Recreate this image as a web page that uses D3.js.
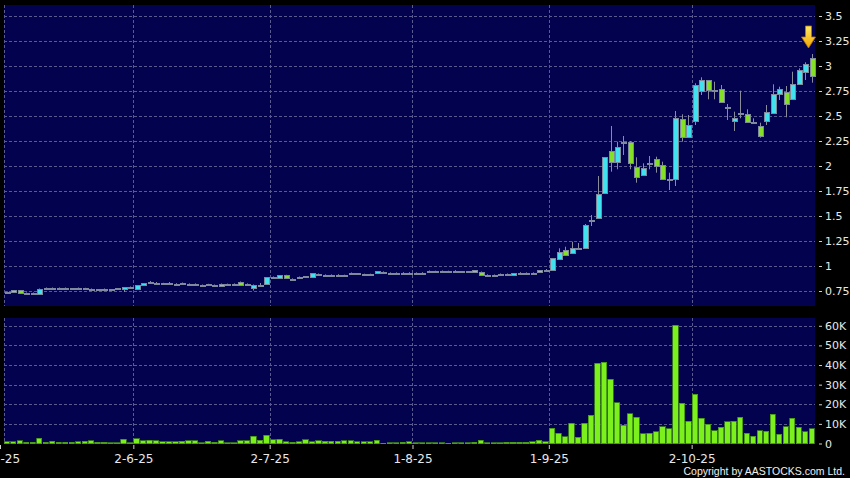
<!DOCTYPE html>
<html>
<head>
<meta charset="utf-8">
<script src="https://cdn.jsdelivr.net/npm/d3@7/dist/d3.min.js"></script>
<style>
body { margin: 0; background: #000; }
svg { display: block; }
</style>
</head>
<body>
<div id="chart"></div>
<script>
// trading days, 2 May - 30 Oct 2025
var days = [
    "2-5-25", "6-5-25", "7-5-25", "8-5-25", "9-5-25", "12-5-25", "13-5-25", "14-5-25", "15-5-25", "16-5-25",
    "19-5-25", "20-5-25", "21-5-25", "22-5-25", "23-5-25", "26-5-25", "27-5-25", "28-5-25", "29-5-25", "30-5-25",
    "2-6-25", "3-6-25", "4-6-25", "5-6-25", "6-6-25", "9-6-25", "10-6-25", "11-6-25", "12-6-25", "13-6-25",
    "16-6-25", "17-6-25", "18-6-25", "19-6-25", "20-6-25", "23-6-25", "24-6-25", "25-6-25", "26-6-25", "27-6-25", "30-6-25",
    "2-7-25", "3-7-25", "4-7-25", "7-7-25", "8-7-25", "9-7-25", "10-7-25", "11-7-25", "14-7-25", "15-7-25",
    "16-7-25", "17-7-25", "18-7-25", "21-7-25", "22-7-25", "23-7-25", "24-7-25", "25-7-25", "28-7-25", "29-7-25", "30-7-25", "31-7-25",
    "1-8-25", "4-8-25", "5-8-25", "6-8-25", "7-8-25", "8-8-25", "11-8-25", "12-8-25", "13-8-25", "14-8-25",
    "15-8-25", "18-8-25", "19-8-25", "20-8-25", "21-8-25", "22-8-25", "25-8-25", "26-8-25", "27-8-25", "28-8-25", "29-8-25",
    "1-9-25", "2-9-25", "3-9-25", "4-9-25", "5-9-25", "8-9-25", "9-9-25", "10-9-25", "11-9-25", "12-9-25",
    "15-9-25", "16-9-25", "17-9-25", "18-9-25", "19-9-25", "22-9-25", "23-9-25", "24-9-25", "25-9-25", "26-9-25", "29-9-25", "30-9-25",
    "2-10-25", "3-10-25", "6-10-25", "8-10-25", "9-10-25", "10-10-25", "13-10-25", "14-10-25", "15-10-25", "16-10-25",
    "17-10-25", "20-10-25", "21-10-25", "22-10-25", "23-10-25", "24-10-25", "27-10-25", "28-10-25", "30-10-25"
];

var opens = [
    0.74, 0.738, 0.757, 0.73, 0.73, 0.725, 0.777, 0.777, 0.777, 0.78,
    0.775, 0.777, 0.775, 0.77, 0.767, 0.77, 0.767, 0.775, 0.77, 0.79,
    0.767, 0.807, 0.84, 0.835, 0.827, 0.835, 0.823, 0.83, 0.823, 0.823,
    0.81, 0.817, 0.81, 0.823, 0.82, 0.823, 0.84, 0.823, 0.79, 0.81, 0.817,
    0.887, 0.875, 0.91, 0.873, 0.89, 0.897, 0.887, 0.923, 0.913, 0.913,
    0.913, 0.91, 0.927, 0.927, 0.92, 0.92, 0.927, 0.943, 0.933, 0.933, 0.933, 0.933,
    0.933, 0.933, 0.947, 0.95, 0.95, 0.95, 0.953, 0.947, 0.947, 0.957,
    0.943, 0.913, 0.91, 0.91, 0.923, 0.91, 0.933, 0.933, 0.933, 0.94, 0.965,
    0.96, 1.07, 1.16, 1.127, 1.183, 1.183, 1.46, 1.477, 1.727, 2.15,
    2.043, 2.237, 2.243, 1.993, 1.903, 2.027, 2.067, 2.007, 1.87, 1.867, 2.467, 2.287,
    2.45, 2.75, 2.857, 2.76, 2.767, 2.593, 2.443, 2.527, 2.52, 2.437,
    2.403, 2.443, 2.527, 2.717, 2.737, 2.667, 2.817, 2.937, 3.077
];
var highs = [
    0.745, 0.76, 0.76, 0.735, 0.735, 0.775, 0.785, 0.785, 0.785, 0.785,
    0.78, 0.785, 0.782, 0.775, 0.77, 0.775, 0.77, 0.78, 0.79, 0.795,
    0.81, 0.83, 0.85, 0.84, 0.832, 0.84, 0.828, 0.835, 0.826, 0.826,
    0.815, 0.822, 0.815, 0.825, 0.824, 0.826, 0.845, 0.826, 0.815, 0.83, 0.887,
    0.895, 0.91, 0.912, 0.876, 0.895, 0.9, 0.93, 0.925, 0.916, 0.916,
    0.918, 0.913, 0.935, 0.93, 0.923, 0.923, 0.95, 0.946, 0.936, 0.936, 0.938, 0.938,
    0.936, 0.938, 0.955, 0.953, 0.955, 0.953, 0.958, 0.95, 0.95, 0.96,
    0.945, 0.917, 0.915, 0.925, 0.925, 0.93, 0.938, 0.936, 0.936, 0.96, 0.97,
    1.08, 1.177, 1.193, 1.243, 1.23, 1.42, 1.51, 1.90, 2.09, 2.40,
    2.243, 2.30, 2.25, 2.087, 2.027, 2.10, 2.093, 2.043, 1.933, 2.55, 2.517, 2.51,
    2.827, 2.887, 2.86, 2.843, 2.81, 2.62, 2.543, 2.753, 2.567, 2.477,
    2.433, 2.61, 2.817, 2.793, 2.80, 2.943, 2.977, 3.037, 3.12
];
var lows = [
    0.735, 0.735, 0.723, 0.725, 0.725, 0.72, 0.77, 0.77, 0.772, 0.775,
    0.77, 0.77, 0.77, 0.765, 0.762, 0.765, 0.762, 0.77, 0.74, 0.785,
    0.765, 0.805, 0.83, 0.83, 0.82, 0.83, 0.818, 0.825, 0.82, 0.82,
    0.805, 0.812, 0.805, 0.80, 0.815, 0.82, 0.81, 0.82, 0.755, 0.805, 0.815,
    0.875, 0.87, 0.875, 0.868, 0.885, 0.893, 0.885, 0.90, 0.91, 0.91,
    0.905, 0.906, 0.922, 0.922, 0.916, 0.916, 0.925, 0.94, 0.93, 0.93, 0.928, 0.928,
    0.93, 0.928, 0.943, 0.946, 0.946, 0.946, 0.948, 0.943, 0.943, 0.937,
    0.917, 0.905, 0.904, 0.905, 0.91, 0.905, 0.928, 0.93, 0.93, 0.935, 0.96,
    0.955, 1.06, 1.10, 1.12, 1.175, 1.18, 1.40, 1.47, 1.72, 1.943,
    1.967, 2.11, 1.967, 1.833, 1.90, 1.967, 1.933, 1.86, 1.76, 1.80, 2.243, 2.28,
    2.41, 2.71, 2.667, 2.667, 2.63, 2.46, 2.35, 2.477, 2.437, 2.42,
    2.283, 2.41, 2.52, 2.66, 2.487, 2.66, 2.81, 2.86, 2.833
];
var closes = [
    0.74, 0.757, 0.723, 0.73, 0.73, 0.77, 0.777, 0.777, 0.777, 0.78,
    0.775, 0.777, 0.775, 0.77, 0.767, 0.77, 0.767, 0.775, 0.787, 0.79,
    0.807, 0.827, 0.84, 0.835, 0.827, 0.835, 0.823, 0.83, 0.823, 0.823,
    0.81, 0.817, 0.81, 0.80, 0.82, 0.823, 0.81, 0.823, 0.815, 0.81, 0.887,
    0.887, 0.905, 0.877, 0.873, 0.89, 0.897, 0.927, 0.923, 0.913, 0.913,
    0.913, 0.91, 0.927, 0.927, 0.92, 0.92, 0.947, 0.943, 0.933, 0.933, 0.933, 0.933,
    0.933, 0.933, 0.947, 0.95, 0.95, 0.95, 0.953, 0.947, 0.947, 0.937,
    0.917, 0.913, 0.91, 0.923, 0.91, 0.927, 0.933, 0.933, 0.933, 0.96, 0.965,
    1.077, 1.137, 1.11, 1.177, 1.183, 1.41, 1.46, 1.717, 2.087, 2.043,
    2.193, 2.237, 2.037, 1.893, 1.977, 2.027, 1.993, 1.867, 1.87, 2.477, 2.283, 2.41,
    2.807, 2.857, 2.753, 2.76, 2.637, 2.593, 2.477, 2.527, 2.437, 2.437,
    2.303, 2.537, 2.717, 2.77, 2.617, 2.817, 2.957, 3.02, 2.893
];
// volume, thousand shares
var volumes = [
    0.85, 1, 1.5, 0.7, 0.7, 2.7, 0.7, 1.2, 0.7, 0.7,
    0.7, 0.85, 1.2, 1.4, 0.7, 0.7, 0.5, 0.5, 2.2, 0.5,
    2.5, 1.5, 1.7, 1.4, 0.85, 0.85, 0.85, 1.2, 1.4, 1.4,
    0.5, 1.2, 0.7, 1.4, 0.5, 0.5, 1.4, 1.5, 3.7, 1.7, 4.2,
    2.0, 2.2, 1.0, 0.7, 0.85, 1.9, 1.0, 1.5, 1.2, 1.2,
    1.2, 1.4, 1.4, 1.0, 1.0, 1.0, 1.7, 0.2, 0.5, 0.5, 0.7, 1.0,
    0.5, 0.5, 0.5, 0.3, 0.3, 0.2, 0.5, 0.5, 0.5, 0.7,
    1.7, 0.5, 0.3, 0.5, 0.7, 0.7, 0.7, 0.7, 1.0, 1.7, 0.85,
    7.7, 5.1, 3.4, 10.2, 3.1, 10.2, 14.5, 40.8, 41.3, 32.8,
    20.9, 9.4, 15.1, 13.4, 4.9, 5.1, 6.0, 8.5, 7.5, 60.4, 20.4, 11.4,
    25.2, 12.8, 9.9, 6.5, 8.2, 11.1, 11.4, 13.4, 5.1, 3.7,
    6.6, 6.3, 14.8, 4.8, 8.5, 12.8, 8.2, 6.0, 7.5
];

var priceTicks = [0.75, 1, 1.25, 1.5, 1.75, 2, 2.25, 2.5, 2.75, 3, 3.25, 3.5];
var volumeTicks = [0, 10, 20, 30, 40, 50, 60];
var dateTicks = ["2-5-25", "2-6-25", "2-7-25", "1-8-25", "1-9-25", "2-10-25"];

var width = 850, height = 478;
var left = 3.5, right = 815;
var step = (right - left) / days.length;

var candles = days.map(function (d, i) {
    return { day: d, o: opens[i], h: highs[i], l: lows[i], c: closes[i], v: volumes[i] };
});

var x = d3.scalePoint().domain(days).range([left, right - step]);
var y = d3.scaleLinear().domain([0.75, 3.5]).range([291, 16]);
var yv = d3.scaleLinear().domain([0, 60]).range([443.5, 325.8]);

var font = "DejaVu Sans, Verdana, sans-serif";
var gridColor = "#5a5a8e";

var svg = d3.select("#chart")
    .append("svg")
    .attr("width", width)
    .attr("height", height)
    .style("background", "#000");

// panels
svg.append("rect").attr("x", 4).attr("y", 5).attr("width", right - 4).attr("height", 301).attr("fill", "#02024e");
svg.append("rect").attr("x", 4).attr("y", 318).attr("width", right - 4).attr("height", 126).attr("fill", "#02024e");

// grid
svg.append("g").selectAll("line")
    .data(priceTicks)
    .enter().append("line")
    .attr("x1", 4).attr("x2", right)
    .attr("y1", function (d) { return Math.round(y(d)) + 0.5; })
    .attr("y2", function (d) { return Math.round(y(d)) + 0.5; })
    .attr("stroke", gridColor).attr("stroke-dasharray", "3,2");

svg.append("g").selectAll("line")
    .data(volumeTicks.slice(1))
    .enter().append("line")
    .attr("x1", 4).attr("x2", right)
    .attr("y1", function (d) { return Math.round(yv(d)) + 0.5; })
    .attr("y2", function (d) { return Math.round(yv(d)) + 0.5; })
    .attr("stroke", gridColor).attr("stroke-dasharray", "3,2");

[[5, 306], [318, 444]].forEach(function (p) {
    svg.append("g").selectAll("line")
        .data(dateTicks)
        .enter().append("line")
        .attr("x1", function (d) { return Math.round(x(d)) + 0.5; })
        .attr("x2", function (d) { return Math.round(x(d)) + 0.5; })
        .attr("y1", p[0]).attr("y2", p[1])
        .attr("stroke", gridColor).attr("stroke-dasharray", "3,2");
});

// candles
var cx = function (d) { return Math.round(x(d.day) + step / 2) + 0.5; };

svg.append("g").selectAll("line")
    .data(candles)
    .enter().append("line")
    .attr("x1", cx).attr("x2", cx)
    .attr("y1", function (d) { return y(d.h); })
    .attr("y2", function (d) { return y(d.l); })
    .attr("stroke", "#8a8c9c");

svg.append("g").selectAll("rect")
    .data(candles)
    .enter().append("rect")
    .attr("x", function (d) { return cx(d) - 2.5; })
    .attr("width", 5)
    .attr("y", function (d) { return Math.round(y(Math.max(d.o, d.c))) + 0.5; })
    .attr("height", function (d) { return Math.max(1, Math.round(Math.abs(y(d.o) - y(d.c)))); })
    .attr("fill", function (d) {
        if (d.o === d.c) return "#8a8c9c";
        return d.c > d.o ? "#40e2f0" : "#84e024";
    })
    .attr("stroke", "#7f8a9c")
    .attr("shape-rendering", "crispEdges");

// volume bars
svg.append("g").selectAll("rect")
    .data(candles)
    .enter().append("rect")
    .attr("x", function (d) { return x(d.day) + 0.6; })
    .attr("width", step - 1.2)
    .attr("y", function (d) { return yv(d.v); })
    .attr("height", function (d) { return yv(0) - yv(d.v); })
    .attr("fill", "#7cf01c")
    .attr("stroke", "#3d8a18")
    .attr("stroke-width", 0.8)
    .attr("shape-rendering", "crispEdges");

// arrow on the latest session
var last = candles[candles.length - 1];
var ax = cx(last) - 4, tip = y(last.h) - 6;
var grad = svg.append("defs").append("linearGradient")
    .attr("id", "arrowFill").attr("x1", 0).attr("y1", 0).attr("x2", 0).attr("y2", 1);
grad.append("stop").attr("offset", "0%").attr("stop-color", "#ffe866");
grad.append("stop").attr("offset", "100%").attr("stop-color", "#f2a400");
svg.append("path")
    .attr("d", "M" + (ax - 3) + "," + (tip - 22) + "L" + (ax + 3) + "," + (tip - 22) +
        "L" + (ax + 3) + "," + (tip - 11) + "L" + (ax + 7) + "," + (tip - 11) +
        "L" + ax + "," + tip + "L" + (ax - 7) + "," + (tip - 11) +
        "L" + (ax - 3) + "," + (tip - 11) + "Z")
    .attr("fill", "url(#arrowFill)")
    .attr("stroke", "#b67a00")
    .attr("stroke-width", 0.8);

// axes
function styleAxis(g, size) {
    g.select(".domain").remove();
    g.selectAll("line").attr("stroke", "#d0d0d0");
    g.selectAll("text").attr("fill", "#e8e8e8").attr("font-family", font).attr("font-size", size);
}

svg.append("g")
    .attr("transform", "translate(819,0)")
    .call(d3.axisRight(y).tickValues(priceTicks).tickSize(3).tickPadding(3)
        .tickFormat(function (d) { return d; }))
    .call(styleAxis, 11);

svg.append("g")
    .attr("transform", "translate(819,0)")
    .call(d3.axisRight(yv).tickValues(volumeTicks).tickSize(3).tickPadding(3)
        .tickFormat(function (d) { return d === 0 ? "0" : d + "K"; }))
    .call(styleAxis, 11);

var xAxis = svg.append("g")
    .attr("transform", "translate(0,445)")
    .call(d3.axisBottom(x).tickValues(dateTicks).tickSize(4).tickPadding(5))
    .call(styleAxis, 12);

// first label sits on the left edge of the window, only its tail shows
xAxis.select(".tick").attr("transform", "translate(0.5,0)");

svg.append("text")
    .attr("x", 845).attr("y", 475)
    .attr("text-anchor", "end")
    .attr("font-family", "Liberation Sans, Arial, sans-serif").attr("font-size", 10.5)
    .attr("fill", "#f0f0f0")
    .text("Copyright by AASTOCKS.com Ltd.");
</script>
</body>
</html>
